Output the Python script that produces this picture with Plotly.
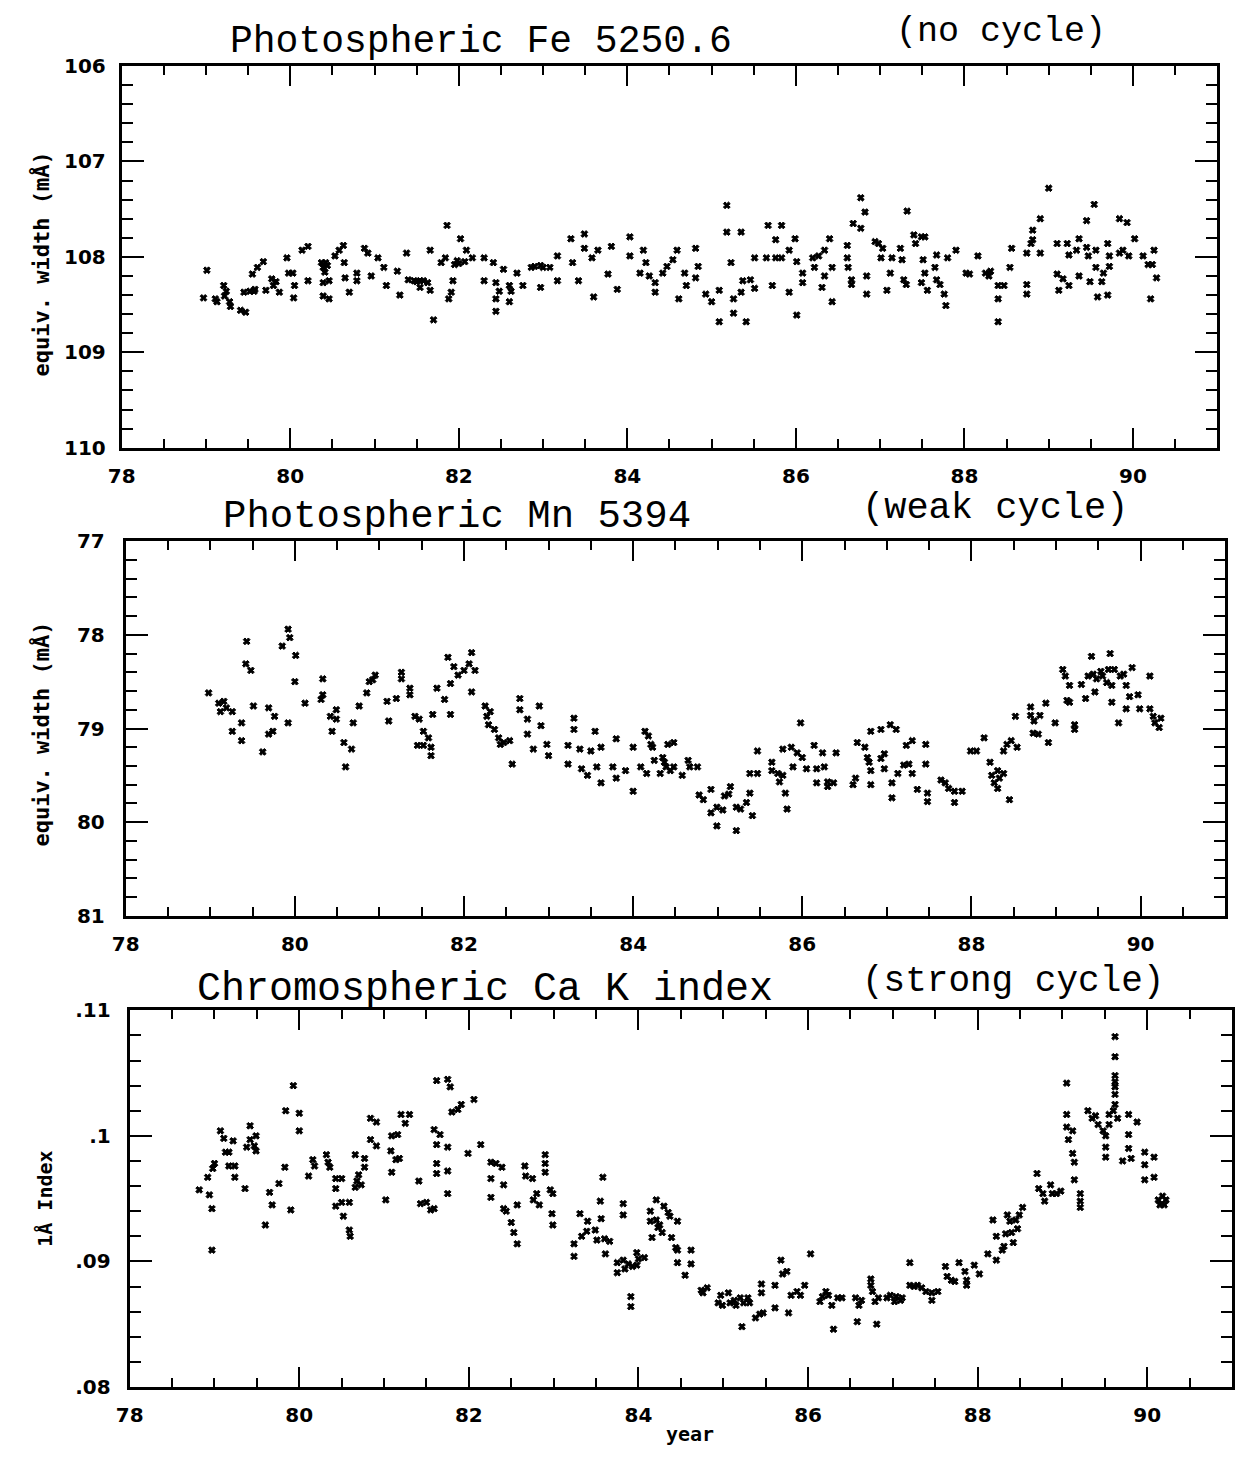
import plotly.graph_objects as go

# ---------------- data ----------------
year_ticks = [78, 80, 82, 84, 86, 88, 90]
year_labels = ["78", "80", "82", "84", "86", "88", "90"]

fe_ticks = [106, 107, 108, 109, 110]
fe_labels = ["106", "107", "108", "109", "110"]
mn_ticks = [77, 78, 79, 80, 81]
mn_labels = ["77", "78", "79", "80", "81"]
ca_ticks = [0.08, 0.09, 0.10, 0.11]
ca_labels = [".08", ".09", ".1", ".11"]

titles = ["Photospheric Fe 5250.6", "Photospheric Mn 5394", "Chromospheric Ca K index"]
subtitles = ["(no cycle)", "(weak cycle)", "(strong cycle)"]
ytitles = ["equiv. width (mÅ)", "equiv. width (mÅ)", "1Å Index"]

fe_year = [
    78.97, 79.01, 79.11, 79.13, 79.21, 79.22, 79.28, 79.29, 79.41, 79.47,
    79.45, 79.52, 79.55, 79.57, 79.61, 79.68, 79.71, 79.78, 79.80, 79.87,
    79.96, 79.98, 80.03, 80.04, 80.05, 80.14, 80.21, 80.21, 80.37, 80.39,
    80.42, 80.39, 80.46, 80.39, 80.46, 80.53, 80.58, 80.63, 80.64, 80.65,
    80.70, 80.79, 80.79, 80.88, 80.92, 80.96, 81.04, 81.11, 81.14, 81.27,
    81.30, 81.38, 81.40, 81.47, 81.54, 81.54, 81.63, 81.66, 81.66, 81.70,
    81.79, 81.84, 81.86, 81.88, 81.91, 81.93, 81.98, 82.02, 82.07, 82.09,
    82.16, 82.30, 82.30, 82.41, 82.44, 82.44, 82.44, 82.53, 82.60, 82.60,
    82.69, 82.76, 82.86, 82.97, 82.97, 83.08, 83.17, 83.17, 83.33, 83.35,
    83.42, 83.49, 83.49, 83.58, 83.60, 83.65, 83.77, 83.81, 83.88,
    79.24, 79.58, 79.83, 80.41, 80.44, 81.50, 81.58, 81.95, 82.00, 82.48,
    82.62, 82.90, 83.00,
    84.03, 84.03, 84.15, 84.19, 84.22, 84.26, 84.33, 84.33, 84.42, 84.47,
    84.54, 84.59, 84.68, 84.70, 84.61, 84.81, 84.84, 84.81, 84.93, 85.00,
    85.09, 85.09, 85.18, 85.18, 85.23, 85.26, 85.26, 85.35, 85.37, 85.35,
    85.41, 85.46, 85.51, 85.51, 85.67, 85.65, 85.72, 85.76, 85.76, 85.83,
    85.83, 85.92, 85.92, 85.99, 86.01, 86.01, 86.08, 86.08, 86.20, 86.22,
    86.27, 86.34, 86.34, 86.31, 86.40, 86.43, 86.43, 86.61, 86.61, 86.62,
    86.66, 86.66, 86.68, 86.77, 86.77, 86.82, 86.84, 86.84, 86.94, 86.98,
    87.03, 87.01, 87.08, 87.12, 87.14, 87.24, 87.26, 87.28, 87.31, 87.32,
    87.40, 87.42, 87.49, 87.53, 87.51, 87.49, 87.53, 87.56, 87.67, 87.65,
    87.67, 87.71, 87.76, 87.78, 87.80, 87.90, 88.02, 88.06, 88.16, 88.25,
    88.29, 88.31, 88.40, 88.40, 88.40, 88.47, 88.54, 88.56, 88.74, 88.74,
    88.74, 88.79, 88.81, 88.81, 88.90, 88.90, 89.00, 89.10, 89.10, 89.12,
    89.17, 89.22, 89.24, 89.24, 89.36, 89.33, 89.36, 89.45, 89.45, 89.47,
    89.49, 89.54, 89.56, 89.56, 89.58, 89.63, 89.65, 89.70, 89.72, 89.72,
    89.70, 89.84, 89.84, 89.88, 89.93, 89.95, 90.02, 90.12, 90.18, 90.23,
    90.25, 90.28, 90.21,
]
fe_width = [
    108.43, 108.14, 108.44, 108.47, 108.30, 108.41, 108.47, 108.52, 108.56, 108.58,
    108.37, 108.36, 108.18, 108.36, 108.11, 108.05, 108.35, 108.23, 108.30, 108.37,
    108.01, 108.17, 108.17, 108.43, 108.30, 107.93, 107.89, 108.25, 108.06, 108.11,
    108.06, 108.27, 108.25, 108.41, 108.44, 107.99, 107.93, 107.88, 108.06, 108.22,
    108.37, 108.17, 108.25, 107.91, 107.96, 108.20, 108.01, 108.11, 108.30, 108.15,
    108.40, 107.96, 108.24, 108.25, 108.25, 108.32, 108.27, 107.93, 108.35, 108.66,
    108.06, 108.01, 107.67, 108.44, 108.37, 108.25, 108.04, 107.81, 108.05, 107.93,
    108.01, 108.01, 108.25, 108.06, 108.27, 108.44, 108.57, 108.13, 108.30, 108.47,
    108.17, 108.30, 108.11, 108.09, 108.32, 108.11, 107.99, 108.25, 107.81, 108.06,
    108.25, 107.76, 107.91, 108.01, 108.42, 107.93, 108.18, 107.89, 108.34,
    108.36, 108.34, 108.26, 108.16, 108.09, 108.26, 108.25, 108.08, 108.07, 108.36,
    108.36, 108.10, 108.11,
    107.99, 107.79, 108.17, 107.93, 108.06, 108.20, 108.27, 108.37, 108.17, 108.10,
    108.03, 107.93, 108.17, 108.30, 108.44, 107.91, 108.10, 108.22, 108.39, 108.47,
    108.35, 108.68, 107.46, 107.74, 108.06, 108.44, 108.59, 107.74, 108.25, 108.37,
    108.68, 108.24, 108.01, 108.33, 107.67, 108.01, 108.30, 107.82, 108.01, 107.67,
    108.01, 107.93, 108.37, 107.81, 108.05, 108.61, 108.17, 108.27, 108.01, 108.11,
    107.99, 107.93, 108.20, 108.32, 107.81, 108.11, 108.47, 107.88, 108.01, 108.11,
    108.24, 108.29, 107.65, 107.38, 107.70, 107.53, 108.20, 108.39, 107.84, 107.86,
    107.91, 108.01, 108.35, 108.17, 108.01, 107.91, 108.03, 108.24, 108.29, 107.52,
    107.77, 107.86, 107.79, 107.79, 108.03, 108.27, 108.17, 108.35, 107.98, 108.11,
    108.24, 108.29, 108.39, 108.51, 108.01, 107.93, 108.17, 108.18, 107.99, 108.17,
    108.20, 108.15, 108.30, 108.44, 108.68, 108.30, 108.11, 107.91, 107.96, 108.29,
    108.39, 107.86, 107.72, 107.82, 107.60, 107.96, 107.28, 107.86, 108.18, 108.35,
    108.23, 107.86, 107.98, 108.30, 107.81, 107.93, 108.20, 107.62, 107.90, 107.99,
    108.26, 107.45, 107.93, 108.11, 108.42, 108.26, 108.17, 107.86, 107.99, 108.10,
    108.40, 107.60, 107.96, 107.93, 107.64, 107.99, 107.81, 107.99, 108.08, 108.08,
    107.93, 108.22, 108.44,
]

mn_year = [
    78.98, 79.10, 79.12, 79.16, 79.19, 79.26, 79.26, 79.37, 79.37, 79.43,
    79.42, 79.48, 79.51, 79.62, 79.69, 79.76, 79.69, 79.74, 79.85, 79.92,
    79.94, 79.92, 80.01, 80.00, 80.12, 80.33, 80.33, 80.31, 80.42, 80.49,
    80.49, 80.44, 80.58, 80.67, 80.60, 80.69, 80.76, 80.85, 80.88, 80.92,
    80.95, 81.09, 81.11, 81.20, 81.26, 81.26, 81.36, 81.36, 81.42, 81.47,
    81.45, 81.52, 81.52, 81.58, 81.61, 81.61, 81.63, 81.68, 81.77, 81.81,
    81.84, 81.84, 81.88, 81.93, 82.00, 82.09, 82.06, 82.13, 82.09, 82.25,
    82.27, 82.31, 82.29, 82.36, 82.41, 82.43, 82.47, 82.54, 82.57, 82.66,
    82.66, 82.75, 82.75, 82.82, 82.89, 82.91, 82.98, 83.00, 83.23, 83.23,
    83.30, 83.30, 83.37, 83.39, 83.46, 83.50, 83.55, 83.57, 83.62, 83.62,
    83.76, 83.80, 83.80,
    83.91, 84.00, 84.00, 84.09, 84.14, 84.16, 84.18, 84.21, 84.23, 84.25,
    84.32, 84.35, 84.37, 84.39, 84.41, 84.44, 84.48, 84.48, 84.58, 84.65,
    84.67, 84.76, 84.78, 84.83, 84.92, 84.92, 84.99, 84.99, 85.06, 85.08,
    85.13, 85.15, 85.22, 85.22, 85.27, 85.34, 85.38, 85.41, 85.38, 85.47,
    85.47, 85.64, 85.64, 85.71, 85.73, 85.77, 85.80, 85.82, 85.77, 85.87,
    85.89, 85.94, 85.98, 86.00, 86.05, 86.14, 86.17, 86.17, 86.24, 86.26,
    86.30, 86.30, 86.37, 86.40, 86.60, 86.63, 86.65, 86.74, 86.77, 86.79,
    86.81, 86.81, 86.81, 86.93, 86.93, 86.97, 86.97, 87.04, 87.06, 87.06,
    87.11, 87.13, 87.20, 87.23, 87.26, 87.30, 87.30, 87.36, 87.46, 87.46,
    87.48, 87.48, 87.64, 87.69, 87.73, 87.80, 87.80, 87.89, 87.99, 88.06,
    88.15, 88.22, 88.24, 88.27, 88.31, 88.33, 88.38, 88.31, 88.45, 88.38,
    88.42, 88.47, 88.52, 88.54, 88.70, 88.70, 88.73, 88.74, 88.79, 88.81,
    88.88, 88.91, 88.99, 89.08, 89.11, 89.13, 89.16, 89.16, 89.22, 89.22,
    89.30, 89.35, 89.38, 89.42, 89.44, 89.46, 89.48, 89.53, 89.55, 89.60,
    89.62, 89.64, 89.66, 89.66, 89.69, 89.74, 89.76, 89.80, 89.83, 89.83,
    89.87, 89.90, 89.97, 89.99, 90.11, 90.11, 90.15, 90.17, 90.22, 90.24,
]
mn_width = [
    78.62, 78.73, 78.82, 78.71, 78.78, 78.82, 79.03, 78.94, 79.13, 78.07,
    78.31, 78.38, 78.76, 79.25, 78.78, 78.87, 79.06, 79.03, 78.12, 77.94,
    78.03, 78.94, 78.22, 78.50, 78.73, 78.47, 78.64, 78.69, 78.87, 78.80,
    78.90, 79.03, 79.15, 79.22, 79.41, 78.94, 78.76, 78.62, 78.50, 78.48,
    78.43, 78.71, 78.92, 78.68, 78.40, 78.47, 78.57, 78.64, 78.87, 78.90,
    79.18, 79.18, 79.03, 79.10, 79.20, 79.29, 78.85, 78.57, 78.69, 78.24,
    78.52, 78.85, 78.34, 78.43, 78.38, 78.19, 78.31, 78.38, 78.61, 78.76,
    78.87, 78.82, 78.96, 79.01, 79.10, 79.17, 79.15, 79.13, 79.38, 78.68,
    78.80, 78.90, 79.06, 79.22, 78.76, 78.97, 79.17, 79.29, 79.18, 79.38,
    78.89, 79.01, 79.22, 79.43, 79.50, 79.24, 79.03, 79.41, 79.58, 79.20,
    79.41, 79.11, 79.53,
    79.45, 79.67, 79.20, 79.41, 79.03, 79.48, 79.08, 79.17, 79.20, 79.34,
    79.48, 79.31, 79.36, 79.41, 79.17, 79.45, 79.15, 79.41, 79.50, 79.34,
    79.41, 79.41, 79.71, 79.76, 79.65, 79.90, 79.84, 80.04, 79.87, 79.72,
    79.70, 79.62, 79.84, 80.09, 79.86, 79.79, 79.69, 79.93, 79.48, 79.48,
    79.24, 79.36, 79.45, 79.48, 79.57, 79.50, 79.69, 79.86, 79.22, 79.20,
    79.41, 79.26, 78.94, 79.31, 79.43, 79.18, 79.43, 79.58, 79.26, 79.41,
    79.62, 79.57, 79.58, 79.26, 79.60, 79.53, 79.15, 79.20, 79.31, 79.36,
    79.45, 79.60, 79.03, 79.01, 79.32, 79.43, 79.27, 78.96, 79.58, 79.74,
    79.01, 79.48, 79.39, 79.18, 79.38, 79.13, 79.48, 79.65, 79.17, 79.38,
    79.69, 79.78, 79.55, 79.58, 79.64, 79.67, 79.79, 79.67, 79.24, 79.24,
    79.10, 79.36, 79.50, 79.58, 79.45, 79.53, 79.48, 79.64, 79.76, 79.24,
    79.17, 79.13, 78.87, 79.20, 78.77, 78.86, 79.05, 78.92, 79.06, 78.86,
    78.73, 79.15, 78.94, 78.37, 78.44, 78.70, 78.54, 78.72, 78.96, 79.01,
    78.53, 78.68, 78.44, 78.23, 78.42, 78.61, 78.47, 78.39, 78.44, 78.51,
    78.37, 78.20, 78.54, 78.72, 78.37, 78.94, 78.44, 78.42, 78.54, 78.79,
    78.66, 78.35, 78.64, 78.79, 78.44, 78.79, 78.87, 78.94, 78.99, 78.89,
]

ca_year = [
    78.82, 78.92, 78.94, 78.97, 78.97, 78.98, 79.00, 79.07, 79.11, 79.13,
    79.17, 79.17, 79.22, 79.24, 79.24, 79.36, 79.38, 79.42, 79.42, 79.47,
    79.49, 79.49, 79.60, 79.65, 79.68, 79.76, 79.83, 79.84, 79.90, 79.93,
    80.00, 80.00, 80.11, 80.16, 80.18, 80.32, 80.34, 80.36, 80.43, 80.43,
    80.43, 80.50, 80.50, 80.52, 80.59, 80.59, 80.60, 80.66, 80.66, 80.68,
    80.70, 80.73, 80.77, 80.77, 80.84, 80.84, 80.91, 80.91, 81.02, 81.08,
    81.09, 81.09, 81.14, 81.16, 81.18, 81.20, 81.25, 81.30, 81.41, 81.43,
    81.50, 81.55, 81.59, 81.59, 81.62, 81.62, 81.62, 81.62, 81.66, 81.75,
    81.78, 81.75, 81.75, 81.75, 81.80, 81.87, 81.91, 81.99, 82.06, 82.14,
    82.26, 82.32, 82.39, 82.26, 82.26, 82.41, 82.41, 82.44, 82.50, 82.53,
    82.57, 82.57, 82.66, 82.67, 82.75, 82.76, 82.80, 82.83, 82.90, 82.90,
    82.90, 82.96, 82.99, 82.98, 82.99, 83.24, 83.24, 83.31, 83.33, 83.39,
    83.40, 83.49, 83.51, 83.55, 83.56, 83.58, 83.60, 83.61, 83.66, 83.75,
    83.75,
    83.82, 83.82, 83.82, 83.84, 83.88, 83.91, 83.91, 83.93, 83.98, 84.00,
    84.07, 83.98, 84.14, 84.14, 84.16, 84.21, 84.21, 84.23, 84.25, 84.28,
    84.30, 84.35, 84.37, 84.39, 84.44, 84.46, 84.46, 84.46, 84.55, 84.62,
    84.62, 84.74, 84.76, 84.81, 84.94, 84.97, 84.99, 85.06, 85.08, 85.13,
    85.15, 85.20, 85.22, 85.24, 85.29, 85.31, 85.38, 85.43, 85.45, 85.45,
    85.47, 85.61, 85.61, 85.68, 85.70, 85.75, 85.77, 85.80, 85.87, 85.91,
    85.96, 86.03, 86.14, 86.17, 86.21, 86.24, 86.28, 86.30, 86.35, 86.40,
    86.56, 86.58, 86.60, 86.63, 86.74, 86.74, 86.76, 86.79, 86.81, 86.83,
    86.93, 86.97, 87.02, 87.04, 87.09, 87.11, 87.20, 87.20, 87.25, 87.29,
    87.34, 87.39, 87.46, 87.46, 87.53, 87.62, 87.64, 87.69, 87.73, 87.78,
    87.85, 87.87, 87.87, 87.96, 88.02, 88.12, 88.18, 88.22, 88.22, 88.29,
    88.31, 88.33, 88.35, 88.38, 88.40, 88.42, 88.45, 88.47, 88.49, 88.53,
    88.70, 88.72, 88.77, 88.79, 88.86, 88.88, 88.93, 88.98, 89.05, 89.05,
    89.05, 89.07, 89.12, 89.12, 89.14, 89.14, 89.21, 89.21, 89.21, 89.30,
    89.35, 89.39, 89.42, 89.48, 89.51, 89.51, 89.51, 89.55, 89.55, 89.60,
    89.62, 89.62, 89.62, 89.62, 89.62, 89.62, 89.62, 89.65, 89.71, 89.78,
    89.78, 89.78, 89.81, 89.88, 89.97, 89.97, 89.97, 90.08, 90.08, 90.13,
    90.15, 90.18, 90.20, 90.22,
]
ca_index = [
    0.0957, 0.0967, 0.0953, 0.0942, 0.0909, 0.0974, 0.0978, 0.1004, 0.0998, 0.0987,
    0.0987, 0.0976, 0.0996, 0.0976, 0.0967, 0.0958, 0.0991, 0.1008, 0.0997, 0.0992,
    0.1000, 0.0988, 0.0929, 0.0955, 0.0945, 0.0962, 0.0975, 0.1020, 0.0941, 0.1040,
    0.1018, 0.1004, 0.0968, 0.0981, 0.0976, 0.0985, 0.0979, 0.0975, 0.0966, 0.0958,
    0.0944, 0.0966, 0.0947, 0.0936, 0.0947, 0.0925, 0.0920, 0.0985, 0.0959, 0.0964,
    0.0969, 0.0961, 0.0982, 0.0975, 0.1014, 0.0997, 0.1011, 0.0992, 0.0949, 0.0988,
    0.1000, 0.0971, 0.0981, 0.1001, 0.0982, 0.1017, 0.1010, 0.1017, 0.0964, 0.0946,
    0.0947, 0.0941, 0.0942, 0.1005, 0.1044, 0.0993, 0.0978, 0.0970, 0.1001, 0.1045,
    0.1039, 0.0991, 0.0972, 0.0954, 0.1019, 0.1021, 0.1025, 0.0986, 0.1029, 0.0993,
    0.0979, 0.0978, 0.0975, 0.0966, 0.0951, 0.0961, 0.0942, 0.0940, 0.0931, 0.0923,
    0.0945, 0.0914, 0.0976, 0.0968, 0.0966, 0.0949, 0.0954, 0.0945, 0.0985, 0.0978,
    0.0971, 0.0957, 0.0954, 0.0938, 0.0929, 0.0914, 0.0904, 0.0938, 0.0920, 0.0924,
    0.0932, 0.0925, 0.0917, 0.0948, 0.0934, 0.0967, 0.0918, 0.0906, 0.0916, 0.0899,
    0.0891,
    0.0946, 0.0937, 0.0901, 0.0894, 0.0898, 0.0872, 0.0864, 0.0896, 0.0897, 0.0902,
    0.0903, 0.0907, 0.0940, 0.0932, 0.0919, 0.0949, 0.0933, 0.0927, 0.0929, 0.0923,
    0.0944, 0.0939, 0.0936, 0.0919, 0.0911, 0.0932, 0.0899, 0.0909, 0.0889, 0.0909,
    0.0898, 0.0877, 0.0875, 0.0879, 0.0867, 0.0873, 0.0865, 0.0875, 0.0867, 0.0869,
    0.0865, 0.0871, 0.0848, 0.0867, 0.0871, 0.0867, 0.0855, 0.0858, 0.0882, 0.0875,
    0.0859, 0.0881, 0.0863, 0.0901, 0.0890, 0.0892, 0.0859, 0.0873, 0.0876, 0.0873,
    0.0881, 0.0906, 0.0868, 0.0872, 0.0876, 0.0873, 0.0865, 0.0846, 0.0871, 0.0871,
    0.0871, 0.0852, 0.0865, 0.0869, 0.0886, 0.0881, 0.0876, 0.0868, 0.0850, 0.0871,
    0.0871, 0.0873, 0.0868, 0.0872, 0.0869, 0.0871, 0.0899, 0.0881, 0.0880, 0.0881,
    0.0879, 0.0876, 0.0875, 0.0869, 0.0876, 0.0896, 0.0888, 0.0885, 0.0884, 0.0899,
    0.0892, 0.0885, 0.0881, 0.0897, 0.0890, 0.0906, 0.0933, 0.0901, 0.0920, 0.0909,
    0.0912, 0.0922, 0.0937, 0.0932, 0.0923, 0.0915, 0.0933, 0.0926, 0.0937, 0.0943,
    0.0970, 0.0958, 0.0954, 0.0948, 0.0961, 0.0954, 0.0954, 0.0956, 0.1042, 0.1017,
    0.1007, 0.0997, 0.1004, 0.0986, 0.0979, 0.0965, 0.0954, 0.0948, 0.0943, 0.1020,
    0.1014, 0.1016, 0.1009, 0.1004, 0.1000, 0.0991, 0.0983, 0.1017, 0.1009, 0.1020,
    0.1079, 0.1063, 0.1048, 0.1043, 0.1039, 0.1033, 0.1025, 0.1014, 0.0980, 0.1017,
    0.1001, 0.0990, 0.0982, 0.1011, 0.0987, 0.0977, 0.0965, 0.0983, 0.0967, 0.0949,
    0.0945, 0.0952, 0.0945, 0.0949,
]

assert len(fe_year) == len(fe_width), (len(fe_year), len(fe_width))
assert len(mn_year) == len(mn_width), (len(mn_year), len(mn_width))
assert len(ca_year) == len(ca_index), (len(ca_year), len(ca_index))

# ---------------- layout ----------------
W, H = 1237, 1458

# plot frames in pixels: left, right, top, bottom
frames = [(109, 1217, 55, 443), (113, 1225, 538, 919), (117, 1232, 1015, 1398)]


def px_x(p):
    return p / W


def px_y(p):
    return 1 - p / H


TICK_FONT = dict(family="DejaVu Sans", size=20, color="black", weight="bold")

fig = go.Figure()

series = [(fe_year, fe_width), (mn_year, mn_width), (ca_year, ca_index)]
marker_sizes = [6, 6, 6]
for i, (xs, ys) in enumerate(series):
    sfx = "" if i == 0 else str(i + 1)
    fig.add_trace(go.Scatter(
        x=xs, y=ys, mode="markers",
        marker=dict(symbol="x", size=marker_sizes[i], color="black",
                    line=dict(width=1, color="black")),
        xaxis="x" + sfx, yaxis="y" + sfx, hoverinfo="skip",
    ))

y_specs = [
    dict(range=[110, 106], tickvals=fe_ticks, ticktext=fe_labels,
         minor=dict(tick0=106, dtick=0.2), standoff=9),
    dict(range=[81, 77], tickvals=mn_ticks, ticktext=mn_labels,
         minor=dict(tick0=77, dtick=0.2), standoff=14),
    dict(range=[0.08, 0.11], tickvals=ca_ticks, ticktext=ca_labels,
         minor=dict(tick0=0.08, dtick=0.002), standoff=12),
]

layout_axes = {}
for i, (x0, x1, top, bot) in enumerate(frames):
    sfx = "" if i == 0 else str(i + 1)
    layout_axes["xaxis" + sfx] = dict(
        domain=[px_x(x0), px_x(x1)], anchor="y" + sfx,
        range=[78, 91], tickmode="array", tickvals=year_ticks, ticktext=year_labels,
        ticks="inside", ticklen=20, tickwidth=2, tickcolor="black",
        showline=True, linewidth=3, linecolor="black", mirror="ticks",
        showgrid=False, zeroline=False, tickfont=TICK_FONT,
        ticklabelstandoff=8,
        minor=dict(tick0=78, dtick=0.5, ticks="inside", ticklen=9, tickwidth=2,
                   tickcolor="black", showgrid=False),
    )
    ys = y_specs[i]
    layout_axes["yaxis" + sfx] = dict(
        domain=[px_y(bot), px_y(top)], anchor="x" + sfx,
        range=ys["range"], tickmode="array", tickvals=ys["tickvals"], ticktext=ys["ticktext"],
        ticks="inside", ticklen=22, tickwidth=2, tickcolor="black",
        showline=True, linewidth=3, linecolor="black", mirror="ticks",
        showgrid=False, zeroline=False, tickfont=TICK_FONT,
        ticklabelstandoff=ys["standoff"],
        minor=dict(tick0=ys["minor"]["tick0"], dtick=ys["minor"]["dtick"], ticks="inside",
                   ticklen=11, tickwidth=2, tickcolor="black", showgrid=False),
    )

annotations = []
TITLE_FAMILY = "Liberation Mono"
# (text, center x px, middle y px, size)
title_pos = [
    (titles[0], 472, 30, 38), (subtitles[0], 998, 20, 35),
    (titles[1], 448, 513, 39), (subtitles[1], 992, 504, 37),
    (titles[2], 476, 994, 40), (subtitles[2], 1010, 986, 36),
]
for text, cx, cy, sz in title_pos:
    annotations.append(dict(
        text=text, x=px_x(cx), y=px_y(cy), xref="paper", yref="paper",
        xanchor="center", yanchor="middle", showarrow=False,
        font=dict(family=TITLE_FAMILY, size=sz, color="black"),
    ))

ytitle_pos = [(28, 256, 22), (28, 734, 22), (31, 1207, 20)]
for text, (cx, cy, sz) in zip(ytitles, ytitle_pos):
    annotations.append(dict(
        text=text, x=px_x(cx), y=px_y(cy), xref="paper", yref="paper",
        xanchor="center", yanchor="middle", showarrow=False, textangle=-90,
        font=dict(family="DejaVu Sans Mono", size=sz, color="black", weight="bold"),
    ))

annotations.append(dict(
    text="year", x=px_x(684), y=px_y(1446), xref="paper", yref="paper",
    xanchor="center", yanchor="middle", showarrow=False,
    font=dict(family="DejaVu Sans Mono", size=20, color="black", weight="bold"),
))

fig.update_layout(
    width=W, height=H, margin=dict(l=0, r=0, t=0, b=0),
    paper_bgcolor="white", plot_bgcolor="white", showlegend=False,
    annotations=annotations, **layout_axes,
)

fig.write_html("out.html")
